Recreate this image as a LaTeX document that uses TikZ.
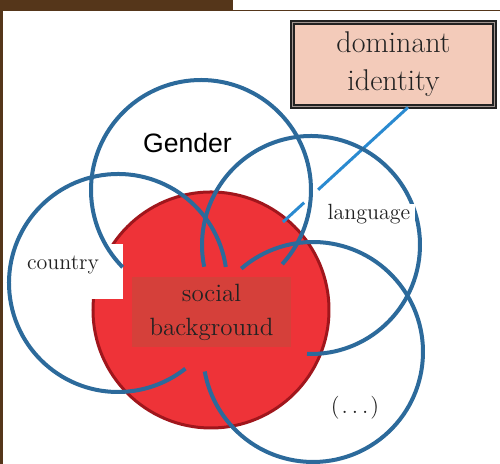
\documentclass[tikz,border=0pt]{standalone}
\usepackage{fontspec}
\newfontfamily\sansfam{Liberation Sans}
\usetikzlibrary{calc}
\definecolor{framebrown}{HTML}{55361A}
\definecolor{ringblue}{HTML}{2C6A9B}
\definecolor{linkblue}{HTML}{2A8AD0}
\definecolor{redfill}{HTML}{EE3338}
\definecolor{reddark}{HTML}{A0161C}
\definecolor{redbox}{HTML}{D5403A}
\definecolor{pinkbox}{HTML}{F3CBBA}
\definecolor{txtgray}{HTML}{222222}
\begin{document}
\begin{tikzpicture}[x=0.5pt, y=0.5pt,
        ring/.style={draw=ringblue, line width=2pt},
        lbl/.style={text=txtgray, inner sep=0.5pt, font=\fontsize{11}{13}\selectfont},
        link/.style={draw=linkblue, line width=1.5pt}]
        \useasboundingbox (0,0) rectangle (500,464);

        % frame
        \fill[framebrown] (0,0) rectangle (3,464);
        \fill[framebrown] (0,452.5) rectangle (233,464);
        \draw[framebrown, line width=0.5pt] (233,453.3) -- (500,453.3);

        % centres
        \coordinate (cred) at (211,154);
        \coordinate (cgender) at (201,274);
        \coordinate (ccountry) at (118,181);
        \coordinate (clang) at (311,219);
        \coordinate (cmore) at (313,112);

        \draw[draw=reddark, fill=redfill, line width=1.5pt] (cred) circle[radius=118];
        \node[fill=redbox, minimum width=79.5pt, minimum height=31pt, align=center,
            text=txtgray, font=\fontsize{12.5}{17}\selectfont] (social) at (211.5,152) {social\\background};

        % dominant identity
        \node[draw=txtgray, double=gray!70!pinkbox, line width=0.9pt, double distance=0.5pt,
            fill=pinkbox, minimum width=101pt, minimum height=42pt, align=center,
            text=txtgray, font=\fontsize{15}{19}\selectfont] (dom) at (393.5,399.5) {dominant\\identity};
        \coordinate (domfoot) at ($(dom.south)+(14.5,0)$);
        \coordinate (tip) at (283,242);
        \draw[link] (domfoot) -- (tip);
        \draw[white, line width=3pt] ($(domfoot)!0.72!(tip)$) -- ($(domfoot)!0.83!(tip)$);

        \fill[white] (18,165) rectangle (123,220);

        % circles
        \draw[ring] ([shift={(-42.4:110)}]cgender) arc[start angle=-42.4, end angle=224.6, radius=110];
        \draw[ring] ([shift={(8.5:109)}]ccountry) arc[start angle=8.5, end angle=308.2, radius=109];
        \draw[ring] ([shift={(-92.1:109)}]clang) arc[start angle=-92.1, end angle=191.5, radius=109];
        \draw[ring] ([shift={(130.7:110)}]cmore) arc[start angle=130.7, end angle=-169.8, radius=110];

        \node[lbl, anchor=base] (country) at (63,194) {country};
        \node[lbl, anchor=base, fill=white, inner xsep=2.4pt] (language) at (369,244) {language};
        \node[anchor=base, font=\sansfam\fontsize{13.3}{15}\selectfont] (gender) at (187.5,311) {Gender};
        \node[lbl, font=\fontsize{11.5}{13}\selectfont] (more) at (355,56) {(\kern1pt.\kern2pt.\kern2pt.\kern1pt)};
    \end{tikzpicture}
\end{document}
